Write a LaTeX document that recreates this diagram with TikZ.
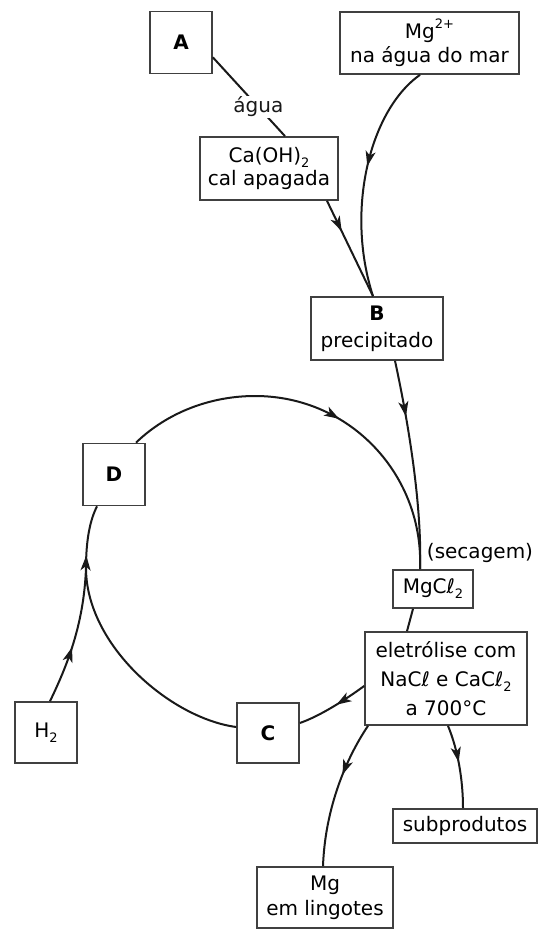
\documentclass[tikz,border=0pt]{standalone}
\usepackage{fontspec}
\setmainfont{DejaVu Sans}
\usetikzlibrary{arrows.meta,decorations.markings}
\newcommand\mysub[1]{\raisebox{-0.45ex}{\fontsize{13}{13}\selectfont #1}}
\newcommand\mysup[1]{\raisebox{0.95ex}{\fontsize{13}{13}\selectfont #1}}
\begin{document}
\begin{tikzpicture}[x=1pt,y=-1pt,
  box/.style={draw=black!75,line width=1.7pt,inner sep=0pt,align=center,font=\fontsize{20}{24}\selectfont},
  letterbox/.style={box,font=\fontsize{20}{24}\selectfont\bfseries,minimum width=62pt,minimum height=62pt},
  lbl/.style={inner sep=1pt,font=\fontsize{20}{24}\selectfont},
  conn/.style={line width=2pt,black!90},
  midarrow/.style={postaction={decorate},decoration={markings,mark=at position #1 with {\arrow{Stealth[length=15pt,width=10pt,inset=4pt]}}}}]
\useasboundingbox (0,0) rectangle (538,933);

% nodes
\node[letterbox] (A) at (181,42.5) {A};
\node[box,minimum width=179pt,minimum height=62pt] (Mg) at (429.5,43) {Mg\mysup{2+}\\na água do mar};
\node[box,minimum width=138pt,minimum height=63pt] (Ca) at (269,168.5) {Ca(OH)\mysub{2}\\[-1pt]cal apagada};
\node[box,minimum width=132pt,minimum height=63pt] (B) at (377,328.5) {{\bfseries B}\\[3pt]precipitado};
\node[letterbox] (D) at (114,474.5) {D};
\node[box,minimum width=62pt,minimum height=61pt] (H2) at (46,732.5) {H\mysub{2}};
\node[letterbox,minimum height=60pt] (C) at (268,733) {C};
\node[box,minimum width=80pt,minimum height=38pt] (MgCl) at (433,589) {MgCℓ\mysub{2}};
\node[lbl] (sec) at (480,553) {(secagem)};
\node[box,minimum width=162pt,minimum height=93pt] (el) at (446,678.5) {eletrólise com\\[5pt]NaCℓ e CaCℓ\mysub{2}\\[5pt]a 700°C};
\node[box,minimum width=136pt,minimum height=61pt] (MgL) at (325,897.5) {Mg\\[1pt]em lingotes};
\node[box,minimum width=144pt,minimum height=34pt] (sub) at (465,826) {subprodutos};
\coordinate (cusp) at (86,568);

% connectors
\draw[conn] (A.-25) -- node[pos=0.63,lbl,fill=white] (agua) {água} ([xshift=16pt]Ca.north);
\draw[conn,midarrow=0.45] ([xshift=-9.5pt]Mg.south) .. controls (370,110) and (345,210) .. ([xshift=-4pt]B.north);
\draw[conn,midarrow=0.32] ([xshift=58pt]Ca.south) -- ([xshift=-4pt]B.north);
\draw[conn,midarrow=0.27] ([xshift=18pt]B.south) .. controls (410,430) and (422,510) .. ([xshift=-13pt]MgCl.north);
\draw[conn,midarrow=0.55] ([xshift=22pt]D.north) .. controls (167.6,412.2) and (210.9,396) .. (255,396)
   .. controls (351.1,396) and (424,476) .. ([xshift=-13pt]MgCl.north);
\draw[conn] ([yshift=6pt]C.west) .. controls (170,718) and (86,645) .. (cusp);
\draw[conn,midarrow=0.2] (cusp) .. controls (86,540) and (90,520) .. ([xshift=-17pt]D.south);
\draw[conn,midarrow=0.42] ([xshift=4pt]H2.north) .. controls (70,660) and (84,620) .. (cusp);
\draw[conn,midarrow=0.45] ([yshift=-7.5pt]el.west) .. controls (345,700) and (320,716) .. ([yshift=10pt]C.east);
\draw[conn,midarrow=0.37] ([xshift=-78pt]el.south) .. controls (345,760) and (325,810) .. ([xshift=-2pt]MgL.north);
\draw[conn,midarrow=0.45] ([xshift=2pt]el.south) .. controls (458,750) and (463,780) .. ([xshift=-2pt]sub.north);
\draw[conn] ([xshift=-20pt]MgCl.south) -- ([xshift=-39pt]el.north);
\end{tikzpicture}
\end{document}
